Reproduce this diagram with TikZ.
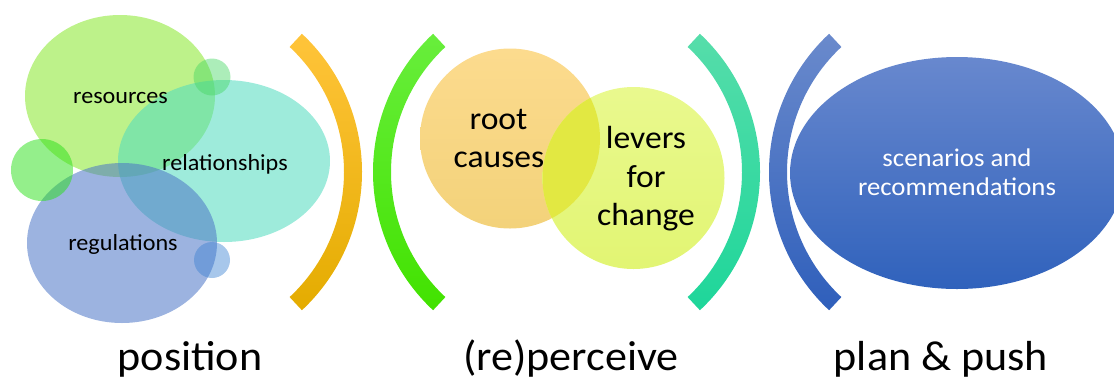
\documentclass[tikz,border=0pt]{standalone}
\usepackage{fontspec}
\setmainfont{Carlito}[FakeStretch=1.05]
\definecolor{cRes}{RGB}{135,231,42}
\definecolor{cRel}{RGB}{79,219,190}
\definecolor{cReg}{RGB}{75,117,198}
\definecolor{cSmTop}{RGB}{70,215,100}
\definecolor{cSmLeft}{RGB}{42,224,24}
\definecolor{cSmBot}{RGB}{60,130,210}
\definecolor{rootTop}{RGB}{252,219,142}
\definecolor{rootBot}{RGB}{243,210,122}
\definecolor{levTop}{RGB}{233,249,142}
\definecolor{levBot}{RGB}{226,245,115}
\definecolor{overlapC}{RGB}{226,232,66}
\definecolor{scenTop}{RGB}{104,136,206}
\definecolor{scenBot}{RGB}{48,98,188}
\definecolor{yTop}{RGB}{255,196,58}
\definecolor{yBot}{RGB}{228,172,0}
\definecolor{gTop}{RGB}{104,238,60}
\definecolor{gBot}{RGB}{66,226,0}
\definecolor{tTop}{RGB}{86,221,170}
\definecolor{tBot}{RGB}{30,214,154}
\definecolor{bTop}{RGB}{106,138,204}
\definecolor{bBot}{RGB}{47,95,187}
\begin{document}
\begin{tikzpicture}[x=1pt,y=-1pt,
  txt/.style={inner sep=0pt, anchor=base, text=black},
  smalltxt/.style={txt, font=\fontsize{23}{23}\selectfont},
  midtxt/.style={txt, font=\fontsize{32}{32}\selectfont},
  bigtxt/.style={txt, font=\fontsize{42}{42}\selectfont},
  scentxt/.style={inner sep=0pt, anchor=base, text=white, font=\fontsize{25.5}{25.5}\selectfont},
  blob/.style={fill opacity=0.55}]
\useasboundingbox (0,0) rectangle (1114,376);
\begin{scope}
\clip (0,0) rectangle (1114,376);
% left cluster
\fill[blob, cRes] (120,96) ellipse [x radius=95, y radius=81];
\fill[blob, cRel] (224,161) ellipse [x radius=106, y radius=81];
\fill[blob, cReg] (122,243) ellipse [x radius=95, y radius=80];
\fill[cSmTop, fill opacity=0.45] (212,77) circle [radius=18.5];
\fill[cSmLeft, fill opacity=0.5] (42,170) circle [radius=31];
\fill[cSmBot, fill opacity=0.45] (212,260) circle [radius=18];
% brackets
\shade[top color=yTop, bottom color=yBot] ([shift={(173,172)}]-47:189) arc[start angle=-47, end angle=47, radius=189] -- ([shift={(173,172)}]47:171) arc[start angle=47, end angle=-47, radius=171] -- cycle;
\shade[top color=gTop, bottom color=gBot] ([shift={(562,172)}]133:189) arc[start angle=133, end angle=227, radius=189] -- ([shift={(562,172)}]227:171) arc[start angle=227, end angle=133, radius=171] -- cycle;
\shade[top color=tTop, bottom color=tBot] ([shift={(571,172)}]-47:189) arc[start angle=-47, end angle=47, radius=189] -- ([shift={(571,172)}]47:171) arc[start angle=47, end angle=-47, radius=171] -- cycle;
\shade[top color=bTop, bottom color=bBot] ([shift={(958,172)}]133:189) arc[start angle=133, end angle=227, radius=189] -- ([shift={(958,172)}]227:171) arc[start angle=227, end angle=133, radius=171] -- cycle;
% middle circles
\shade[top color=rootTop, bottom color=rootBot] (510,138.5) circle [radius=90];
\shade[top color=levTop, bottom color=levBot] (633.5,178) circle [radius=91];
\begin{scope}
\clip (510,138.5) circle [radius=90];
\fill[overlapC] (633.5,178) circle [radius=91];
\end{scope}
% scenario ellipse
\shade[top color=scenTop, bottom color=scenBot] (957,173) ellipse [x radius=167, y radius=116];
\end{scope}
% texts
\node[smalltxt] (res) at (120.5,103) {resources};
\node[smalltxt] (rel) at (225,170) {relationships};
\node[smalltxt] (reg) at (123,250) {regulations};
\node[midtxt] (root1) at (498.5,129) {root};
\node[midtxt] (root2) at (499,167) {causes};
\node[midtxt] (lev1) at (646,148) {levers};
\node[midtxt] (lev2) at (646,187) {for};
\node[midtxt] (lev3) at (646,225) {change};
\node[scentxt] (sc1) at (957,166) {scenarios and};
\node[scentxt] (sc2) at (957,195) {recommendations};
\node[bigtxt] (pos) at (190,370) {position};
\node[bigtxt] (per) at (571,370) {(re)perceive};
\node[bigtxt] (plan) at (941,370) {plan \& push};
\end{tikzpicture}
\end{document}
